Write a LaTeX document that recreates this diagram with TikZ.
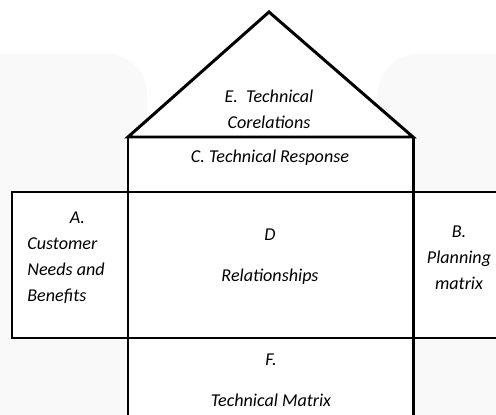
\documentclass[tikz,border=0pt]{standalone}
\usepackage{fontspec}
\setmainfont{Carlito}
\usepackage{xcolor}
\usetikzlibrary{calc}
\definecolor{paleback}{HTML}{F9F9F9}

\begin{document}
\begin{tikzpicture}[x=0.02cm,y=0.02cm,
    wall/.style={line width=1.7pt, line join=miter},
    lbl/.style={font=\fontsize{10.3}{14.8}\selectfont\itshape, inner sep=0pt, align=center}]
        \useasboundingbox (0,0) rectangle (496,415);
        \clip (0,0) rectangle (496,415);
        %KOORDINAT
        \coordinate (P) at (269,403);
        \coordinate (RL) at (128,278);
        \coordinate (RR) at (413,278);
        \coordinate (TL) at (128,223);
        \coordinate (TR) at (413,223);
        \coordinate (BL) at (128,77);
        \coordinate (BR) at (413,77);
        %LATAR
        \fill[paleback, rounded corners=0.8cm] (-60,-20) rectangle (147,361);
        \fill[paleback, rounded corners=0.8cm] (378,-20) rectangle (560,361);
        %KOTAK
        \fill[white] (RL) -- (P) -- (RR) -- (413,-10) -- (128,-10) -- cycle;
        \fill[white] (12,77) rectangle (500,223);
        \draw[wall] (RL) -- (P) -- (RR) -- cycle;
        \draw[wall] (128,-10) -- (RL);
        \draw[wall] (413,-10) -- (RR);
        \draw[wall] (TL) -- (TR) -- (500,223);
        \draw[wall] (TL) -- (12,223) -- (12,77) -- (BL) -- (BR) -- (500,77);
        %TEKS
        \node[lbl] (roof) at (269,306) {E.\ \ Technical\\Corelations};
        \node[lbl] (resp) at (270,257) {C. Technical Response};
        \node[lbl, align=left, anchor=north west] (cust) at (27,203)
            {\hspace*{2.35em}A.\\Customer\\Needs and\\Benefits};
        \node[lbl] (rel) at (270,180) {D};
        \node[lbl] (relname) at (270,138) {Relationships};
        \node[lbl] (plan) at (459,157) {B.\\Planning\\matrix};
        \node[lbl] (tm) at (271,55) {F.};
        \node[lbl] (tmname) at (271,15) {Technical Matrix};
\end{tikzpicture}
\end{document}
